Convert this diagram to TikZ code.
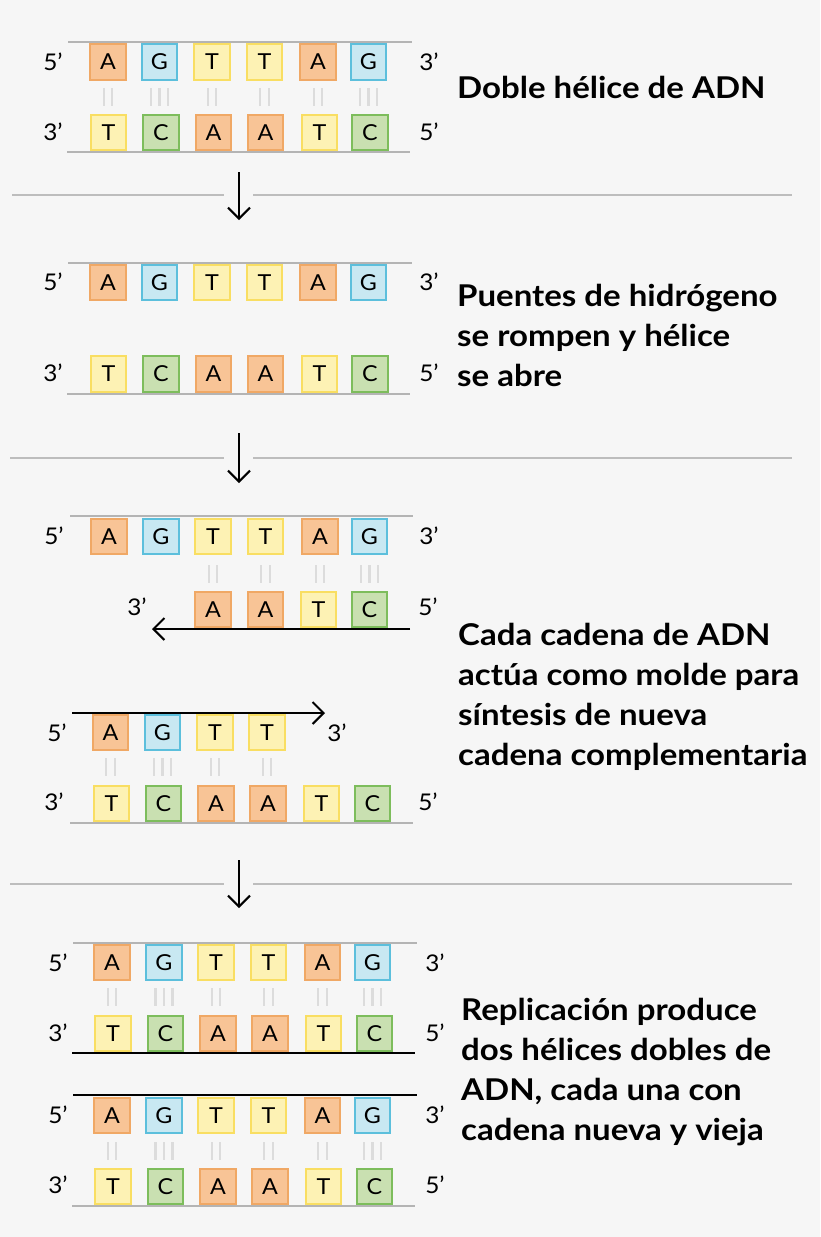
\documentclass[tikz,border=0pt]{standalone}
\usepackage{fontspec}
\setmainfont{Lato}
\newfontfamily\capfont{Lato}[FakeStretch=1.1]
\newfontfamily\basefont{Lato}[FakeStretch=1.06]
\usetikzlibrary{arrows.meta,calc}
\definecolor{bgc}{HTML}{F6F6F6}
\definecolor{afill}{HTML}{F8C496}
\definecolor{aline}{HTML}{F0A865}
\definecolor{gfill}{HTML}{C8E8F2}
\definecolor{gline}{HTML}{5CBFDC}
\definecolor{tfill}{HTML}{FDF2B4}
\definecolor{tline}{HTML}{F9DE62}
\definecolor{cfill}{HTML}{C9E0B1}
\definecolor{cline}{HTML}{7DBD5C}
\definecolor{strand}{HTML}{B4B4B4}
\definecolor{hbc}{HTML}{DCDCDC}
\definecolor{sepc}{HTML}{BDBDBD}
\tikzset{
  base/.style={line width=1.8pt, minimum size=35.5pt, inner sep=0pt, font=\basefont\fontsize{22}{22}\selectfont},
  bA/.style={base, fill=afill, draw=aline},
  bG/.style={base, fill=gfill, draw=gline},
  bT/.style={base, fill=tfill, draw=tline},
  bC/.style={base, fill=cfill, draw=cline},
  strandline/.style={draw=strand, line width=2pt},
  newline/.style={draw=black, line width=2pt},
  hbline/.style={draw=hbc, line width=2.2pt},
  sepline/.style={draw=sepc, line width=2pt},
  arr/.style={line width=2pt, -{Straight Barb[length=11pt,width=22pt]}},
  endlab/.style={font=\basefont\fontsize{23}{23}\selectfont, inner sep=0pt},
  caption/.style={font=\capfont\fontsize{30}{40}\selectfont\bfseries, align=left, anchor=base west, inner sep=0pt},
}
\newcommand\hbs[3]{%
  \ifnum#2=2
    \draw[hbline] ([xshift=-4.25pt,yshift=-#3pt]#1.south) -- ++(0,18);
    \draw[hbline] ([xshift=4.25pt,yshift=-#3pt]#1.south) -- ++(0,18);
  \else
    \draw[hbline] ([xshift=-8.5pt,yshift=-#3pt]#1.south) -- ++(0,18);
    \draw[hbline] ([yshift=-#3pt]#1.south) -- ++(0,18);
    \draw[hbline] ([xshift=8.5pt,yshift=-#3pt]#1.south) -- ++(0,18);
  \fi}
\begin{document}
\begin{tikzpicture}[x=1pt,y=-1pt]
\fill[bgc] (0,0) rectangle (820,1237);
\useasboundingbox (0,0) rectangle (820,1237);

% ---------- Panel 1 ----------
\coordinate (l1a) at (68,42); \coordinate (l1b) at (412,42);
\coordinate (l1c) at (67,152); \coordinate (l1d) at (410,152);
\draw[strandline] (l1a) -- (l1b);
\draw[strandline] (l1c) -- (l1d);
\foreach \x/\l [count=\i] in {108/A,159.5/G,212/T,264.5/T,318/A,368.5/G}
  \node[b\l] (p1t\i) at (\x,62) {\l};
\foreach \x/\l [count=\i] in {108.5/T,161/C,213.5/A,265.5/A,319.5/T,370/C}
  \node[b\l] (p1b\i) at (\x,132.5) {\l};
\hbs{p1t1}{2}{7.4}\hbs{p1t2}{3}{7.4}\hbs{p1t3}{2}{7.4}
\hbs{p1t4}{2}{7.4}\hbs{p1t5}{2}{7.4}\hbs{p1t6}{3}{7.4}
\node[endlab] (p1e1) at (53,62) {5’};
\node[endlab] (p1e2) at (429,62) {3’};
\node[endlab] (p1e3) at (53,132) {3’};
\node[endlab] (p1e4) at (429,132) {5’};
\node[caption] (cap1) at (457,98) {Doble hélice de ADN};

% separator 1
\coordinate (s1a) at (12,195); \coordinate (s1b) at (224,195);
\coordinate (s1c) at (253,195); \coordinate (s1d) at (792,195);
\draw[sepline] (s1a) -- (s1b); \draw[sepline] (s1c) -- (s1d);
\coordinate (a1s) at (239,172); \coordinate (a1e) at (239,220);
\draw[arr] (a1s) -- (a1e);

% ---------- Panel 2 ----------
\coordinate (l2a) at (68,263); \coordinate (l2b) at (412,263);
\coordinate (l2c) at (67,394); \coordinate (l2d) at (410,394);
\draw[strandline] (l2a) -- (l2b);
\draw[strandline] (l2c) -- (l2d);
\foreach \x/\l [count=\i] in {108/A,159.5/G,212/T,264.5/T,318/A,368.5/G}
  \node[b\l] (p2t\i) at (\x,282.5) {\l};
\foreach \x/\l [count=\i] in {108.5/T,161/C,213.5/A,265.5/A,319.5/T,370/C}
  \node[b\l] (p2b\i) at (\x,374) {\l};
\node[endlab] (p2e1) at (53,282) {5’};
\node[endlab] (p2e2) at (429,282) {3’};
\node[endlab] (p2e3) at (53,373) {3’};
\node[endlab] (p2e4) at (429,373) {5’};
\node[caption] (cap2) at (457,386) {Puentes de hidrógeno\\se rompen y hélice\\se abre};

% separator 2
\coordinate (s2a) at (10,458); \coordinate (s2b) at (224,458);
\coordinate (s2c) at (253,458); \coordinate (s2d) at (792,458);
\draw[sepline] (s2a) -- (s2b); \draw[sepline] (s2c) -- (s2d);
\coordinate (a2s) at (239,433); \coordinate (a2e) at (239,483);
\draw[arr] (a2s) -- (a2e);

% ---------- Panel 3 ----------
\coordinate (l3a) at (70,516); \coordinate (l3b) at (413,516);
\draw[strandline] (l3a) -- (l3b);
\foreach \x/\l [count=\i] in {109/A,161/G,213/T,265.5/T,320/A,369.5/G}
  \node[b\l] (p3t\i) at (\x,536.5) {\l};
\foreach \x/\l [count=\i] in {213/A,265.5/A,318.5/T,369.5/C}
  \node[b\l] (p3n\i) at (\x,609.5) {\l};
\hbs{p3t3}{2}{10}\hbs{p3t4}{2}{10}\hbs{p3t5}{2}{10}\hbs{p3t6}{3}{10}
\coordinate (n1s) at (410,629); \coordinate (n1e) at (152,629);
\draw[arr] (n1s) -- (n1e);
\node[endlab] (p3e1) at (54,536) {5’};
\node[endlab] (p3e2) at (429,536) {3’};
\node[endlab] (p3e3) at (137,607) {3’};
\node[endlab] (p3e4) at (428,607) {5’};

\coordinate (n2s) at (72,713); \coordinate (n2e) at (325,713);
\draw[arr] (n2s) -- (n2e);
\foreach \x/\l [count=\i] in {110.5/A,162.5/G,215/T,267/T}
  \node[b\l] (p3m\i) at (\x,732.5) {\l};
\hbs{p3m1}{2}{7}\hbs{p3m2}{3}{7}\hbs{p3m3}{2}{7}\hbs{p3m4}{2}{7}
\foreach \x/\l [count=\i] in {111.5/T,163.5/C,216/A,268/A,321.5/T,372.5/C}
  \node[b\l] (p3b\i) at (\x,803.5) {\l};
\coordinate (l3c) at (70,823); \coordinate (l3d) at (413,823);
\draw[strandline] (l3c) -- (l3d);
\node[endlab] (p3e5) at (57,733) {5’};
\node[endlab] (p3e6) at (337,733) {3’};
\node[endlab] (p3e7) at (54,802) {3’};
\node[endlab] (p3e8) at (428,802) {5’};
\node[caption] (cap3) at (458,765) {Cada cadena de ADN\\actúa como molde para\\síntesis de nueva\\cadena complementaria};

% separator 3
\coordinate (s3a) at (10,884); \coordinate (s3b) at (224,884);
\coordinate (s3c) at (253,884); \coordinate (s3d) at (792,884);
\draw[sepline] (s3a) -- (s3b); \draw[sepline] (s3c) -- (s3d);
\coordinate (a3s) at (239,860); \coordinate (a3e) at (239,908);
\draw[arr] (a3s) -- (a3e);

% ---------- Panel 4 ----------
\coordinate (l4a) at (73,943); \coordinate (l4b) at (417,943);
\coordinate (l4c) at (72,1053); \coordinate (l4d) at (415,1053);
\coordinate (l4e) at (73,1095); \coordinate (l4f) at (417,1095);
\coordinate (l4g) at (72,1206); \coordinate (l4h) at (415,1206);
\draw[strandline] (l4a) -- (l4b);
\draw[newline] (l4c) -- (l4d);
\draw[newline] (l4e) -- (l4f);
\draw[strandline] (l4g) -- (l4h);
\foreach \x/\l [count=\i] in {112/A,164/G,216/T,268.5/T,322.5/A,372.5/G}
  \node[b\l] (p4a\i) at (\x,962.5) {\l};
\foreach \x/\l [count=\i] in {113/T,165.5/C,218/A,270/A,323.5/T,374.5/C}
  \node[b\l] (p4b\i) at (\x,1033.5) {\l};
\foreach \x/\l [count=\i] in {112/A,164/G,216/T,268.5/T,322.5/A,372.5/G}
  \node[b\l] (p4c\i) at (\x,1115.5) {\l};
\foreach \x/\l [count=\i] in {113/T,165.5/C,218/A,270/A,323.5/T,374.5/C}
  \node[b\l] (p4d\i) at (\x,1186.5) {\l};
\hbs{p4a1}{2}{7}\hbs{p4a2}{3}{7}\hbs{p4a3}{2}{7}
\hbs{p4a4}{2}{7}\hbs{p4a5}{2}{7}\hbs{p4a6}{3}{7}
\hbs{p4c1}{2}{8}\hbs{p4c2}{3}{8}\hbs{p4c3}{2}{8}
\hbs{p4c4}{2}{8}\hbs{p4c5}{2}{8}\hbs{p4c6}{3}{8}
\node[endlab] (p4e1) at (58,963) {5’};
\node[endlab] (p4e2) at (435,963) {3’};
\node[endlab] (p4e3) at (58,1033) {3’};
\node[endlab] (p4e4) at (435,1033) {5’};
\node[endlab] (p4e5) at (58,1115) {5’};
\node[endlab] (p4e6) at (435,1115) {3’};
\node[endlab] (p4e7) at (58,1185) {3’};
\node[endlab] (p4e8) at (435,1185) {5’};
\node[caption] (cap4) at (461,1140) {Replicación produce\\dos hélices dobles de\\ADN, cada una con\\cadena nueva y vieja};
\end{tikzpicture}
\end{document}
